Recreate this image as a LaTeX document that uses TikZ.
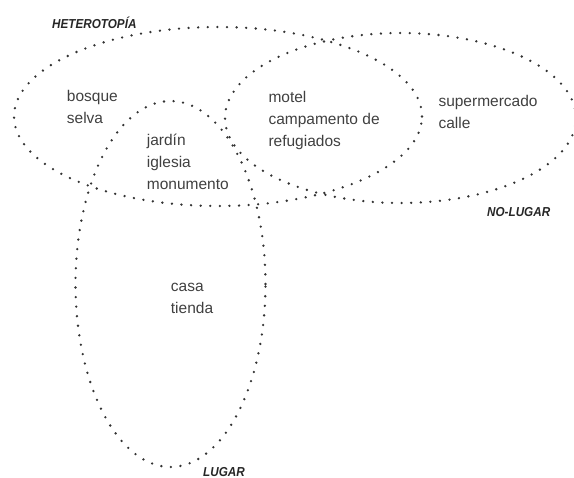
\documentclass[tikz,border=0pt]{standalone}
\usepackage{fontspec}
\setmainfont{Liberation Sans}
\usetikzlibrary{shapes.geometric}
\definecolor{dotgray}{rgb}{0.2, 0.2, 0.2}
\definecolor{textgray}{rgb}{0.25, 0.25, 0.25}

\begin{document}
\begin{tikzpicture}
[x=1pt, y=-1pt,
 zone/.style={ellipse, draw=dotgray, line width=2.6pt, line cap=round,
   dash pattern=on 0pt off 9.6pt, inner sep=0pt},
 place/.style={anchor=base west, align=left, inner sep=0pt, text=textgray,
   font=\fontsize{15.5}{22}\selectfont},
 tag/.style={anchor=base west, inner sep=0pt, xscale=0.9, text=black!85,
   font=\fontsize{13}{13}\selectfont\bfseries\itshape}]
\useasboundingbox (0,0) rectangle (574,478);
% the three zones
\node[zone, minimum width=408pt, minimum height=179pt] (het) at (218,116.5) {};
\node[zone, minimum width=351pt, minimum height=170pt] (nol) at (400.5,118) {};
\node[zone, minimum width=190pt, minimum height=366pt] (lug) at (170.5,284) {};
% zone titles
\node[tag] (thet) at (52,28.3) {HETEROTOPÍA};
\node[tag] (tnol) at (487,216.7) {NO-LUGAR};
\node[tag] (tlug) at (203,476.5) {LUGAR};
% places in each zone (placed at the baseline of their last line)
\node[place] (bosque) at (66.7,123.5) {bosque\\selva};
\node[place] (jardin) at (146.7,190) {jardín\\iglesia\\monumento};
\node[place] (motel) at (268.3,147) {motel\\campamento de\\refugiados};
\node[place] (super) at (438.3,128.5) {supermercado\\calle};
\node[place] (casa) at (170.7,313.5) {casa\\tienda};
\end{tikzpicture}
\end{document}
